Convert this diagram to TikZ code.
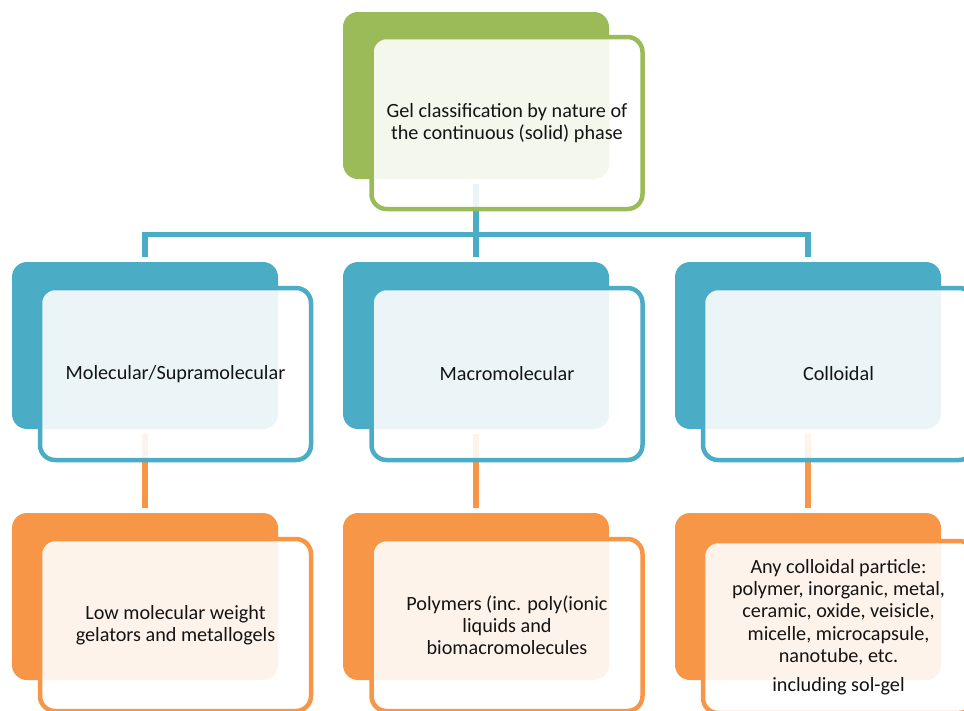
\documentclass[tikz,border=0pt]{standalone}
\usepackage{fontspec}
\setmainfont{Carlito}
\usetikzlibrary{backgrounds}
\definecolor{gelgreen}{RGB}{155,187,89}
\definecolor{gelblue}{RGB}{75,172,198}
\definecolor{gelorange}{RGB}{247,150,70}
\begin{document}
\begin{tikzpicture}[x=1pt,y=-1pt,
  backbox/.style={rectangle, rounded corners=15pt, minimum width=266pt, minimum height=167pt,
    inner sep=0pt, outer sep=0pt, fill=#1, draw=none},
  frontbox/.style={rectangle, rounded corners=15pt, minimum width=271pt, minimum height=172pt,
    inner sep=0pt, outer sep=0pt, draw=#1, line width=4.5pt, fill=white, fill opacity=0.89,
    text opacity=1, align=center, font=\fontsize{20.2}{22.3}\selectfont, text=black!92},
  link/.style={draw=#1, line width=5.5pt}]
\path[use as bounding box, clip] (0,0) rectangle (964,710);

% top level
\node[backbox=gelgreen] (gback) at (476,95.5) {};
\node[frontbox=gelgreen] (gfront) at (507,123) {Gel classification by nature of\\the continuous (solid) phase};

% blue level
\node[backbox=gelblue] (bback1) at (145,345.5) {};
\node[backbox=gelblue] (bback2) at (476,345.5) {};
\node[backbox=gelblue] (bback3) at (808,345.5) {};
\node[frontbox=gelblue] (bfront1) at (175.5,374) {Molecular/Supramolecular};
\node[frontbox=gelblue] (bfront2) at (507,374) {Macromolecular};
\node[frontbox=gelblue] (bfront3) at (838.5,374) {Colloidal};

% orange level
\node[backbox=gelorange] (oback1) at (145,596.5) {};
\node[backbox=gelorange] (oback2) at (476,596.5) {};
\node[backbox=gelorange] (oback3) at (808,596.5) {};
\node[frontbox=gelorange] (ofront1) at (175.5,625) {Low molecular weight\\gelators and metallogels};
\node[frontbox=gelorange] (ofront2) at (507,625) {Polymers (inc. poly(ionic\\liquids and\\biomacromolecules};
\node[frontbox=gelorange] (ofront3) at (838.5,627) {Any colloidal particle:\\polymer, inorganic, metal,\\ceramic, oxide, veisicle,\\micelle, microcapsule,\\nanotube, etc.\\[6.5pt]including sol-gel};

% connectors
\coordinate (hub) at (476,234.5);
\begin{scope}[on background layer]
\draw[link=gelblue] ([yshift=-5pt]gback.south) -- (hub);
\draw[link=gelblue] ([yshift=5pt]bback1.north) |- (hub) -| ([yshift=5pt]bback3.north);
\draw[link=gelblue] (hub) -- ([yshift=5pt]bback2.north);
\draw[link=gelorange] ([yshift=-5pt]bback1.south) -- ([yshift=5pt]oback1.north);
\draw[link=gelorange] ([yshift=-5pt]bback2.south) -- ([yshift=5pt]oback2.north);
\draw[link=gelorange] ([yshift=-5pt]bback3.south) -- ([yshift=5pt]oback3.north);
\end{scope}
\end{tikzpicture}
\end{document}
